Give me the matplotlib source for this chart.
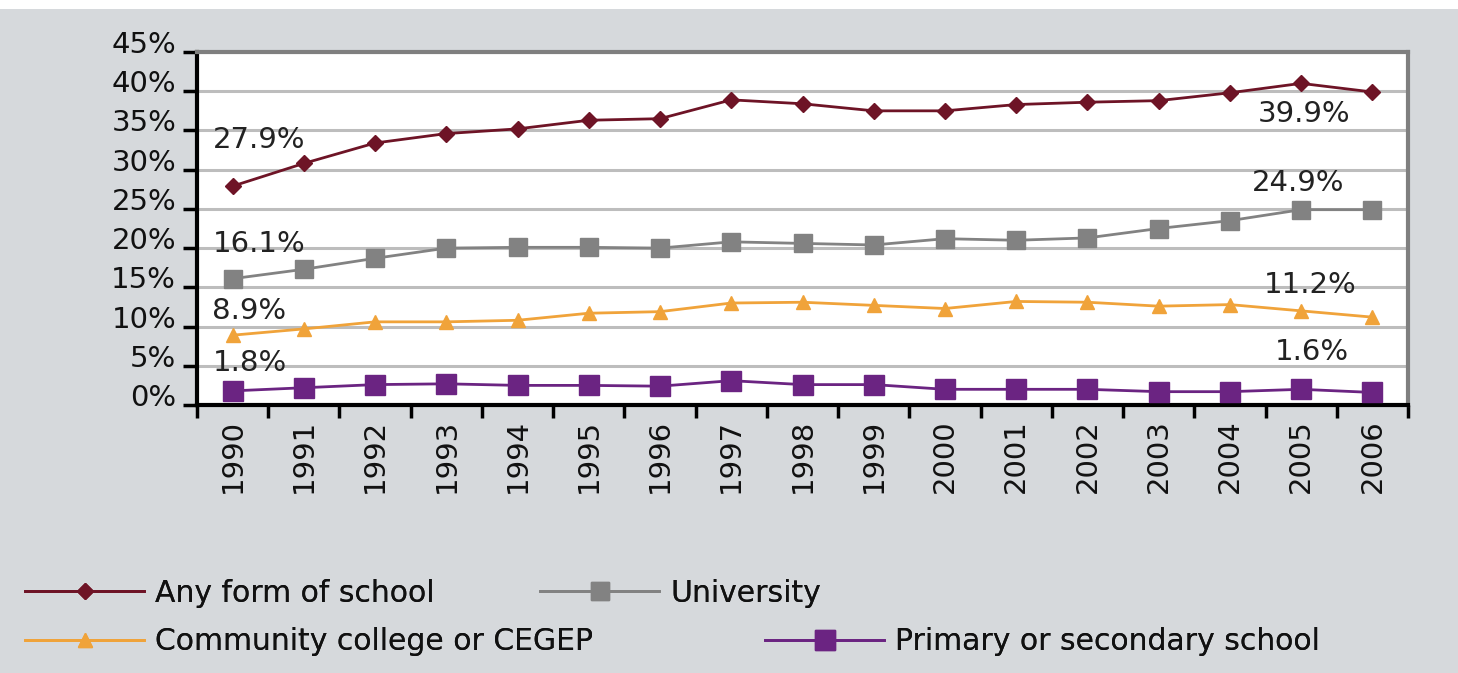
import matplotlib
matplotlib.use("Agg")
import matplotlib.pyplot as plt
import matplotlib.transforms as mtransforms
from matplotlib.patches import Rectangle

plt.rcParams['font.family'] = ['DejaVu Sans']

years = ['1990', '1991', '1992', '1993', '1994', '1995', '1996', '1997', '1998',
         '1999', '2000', '2001', '2002', '2003', '2004', '2005', '2006']
any_school = [27.9, 30.8, 33.4, 34.6, 35.2, 36.3, 36.5, 38.9, 38.4, 37.5, 37.5,
              38.3, 38.6, 38.8, 39.8, 41.0, 39.9]
university = [16.1, 17.3, 18.7, 20.0, 20.1, 20.1, 20.0, 20.8, 20.6, 20.4, 21.2,
              21.0, 21.3, 22.5, 23.5, 24.9, 24.9]
community = [8.9, 9.7, 10.6, 10.6, 10.8, 11.7, 11.9, 13.0, 13.1, 12.7, 12.3,
             13.2, 13.1, 12.6, 12.8, 12.0, 11.2]
primary = [1.8, 2.2, 2.6, 2.7, 2.5, 2.5, 2.4, 3.1, 2.6, 2.6, 2.0, 2.0, 2.0,
           1.7, 1.7, 2.0, 1.6]
series_names = ['Any form of school', 'University', 'Community college or CEGEP',
                'Primary or secondary school']
yticks = [0, 5, 10, 15, 20, 25, 30, 35, 40, 45]

W, H = 1458, 673
fig = plt.figure(figsize=(W / 100, H / 100), dpi=100)
bg = '#d6d9dc'
fig.patch.set_facecolor(bg)
fig.patches.append(Rectangle((0, (H - 9) / H), 1, 9 / H, transform=fig.transFigure,
                             facecolor='white', edgecolor='none', zorder=0))

ax = fig.add_axes([197 / W, (H - 405) / H, (1408 - 197) / W, (405 - 52) / H])
ax.set_facecolor('white')
x = list(range(len(years)))

c_any = '#6e1426'
c_uni = '#828282'
c_com = '#f0a33a'
c_pri = '#6b2482'

l1, = ax.plot(x, any_school, color=c_any, lw=2, marker='D', ms=8, mfc=c_any, mec=c_any, zorder=4)
l2, = ax.plot(x, university, color=c_uni, lw=2, marker='s', ms=12.5, mfc=c_uni, mec=c_uni, zorder=4)
l3, = ax.plot(x, community, color=c_com, lw=2, marker='^', ms=10, mfc=c_com, mec=c_com, zorder=4)
l4, = ax.plot(x, primary, color=c_pri, lw=2, marker='s', ms=14, mfc=c_pri, mec=c_pri, zorder=4,
              clip_on=False)

ax.set_xlim(-0.5, len(years) - 0.5)
ax.set_ylim(0, 45)
ax.set_yticks(yticks)
ax.set_yticklabels([f'{v}%' for v in yticks], fontsize=21, color='#111111')
ax.yaxis.grid(True, color='#bdbdbd', lw=2.2)
ax.set_axisbelow(True)
ax.tick_params(axis='y', length=10, width=2.5, direction='out', pad=5)
off = mtransforms.ScaledTranslation(0, 10 / 100, fig.dpi_scale_trans)
for lab in ax.get_yticklabels():
    lab.set_transform(lab.get_transform() + off)

ax.set_xticks(x)
ax.set_xticklabels(years, rotation=90, fontsize=21, color='#111111')
ax.set_xticks([i - 0.5 for i in range(len(years) + 1)], minor=True)
ax.tick_params(axis='x', which='major', length=0, pad=10)
ax.tick_params(axis='x', which='minor', length=9, width=2.5, direction='out')

for s in ['left', 'bottom']:
    ax.spines[s].set_color('black')
    ax.spines[s].set_linewidth(3)
for s in ['top', 'right']:
    ax.spines[s].set_color('#7f7f7f')
    ax.spines[s].set_linewidth(3)

lab_kw = dict(textcoords='offset pixels', fontsize=21, color='#222222', ha='center', va='center')
ax.annotate(f'{any_school[0]}%', (0, any_school[0]), xytext=(27, 46), **lab_kw)
ax.annotate(f'{university[0]}%', (0, university[0]), xytext=(27, 35), **lab_kw)
ax.annotate(f'{community[0]}%', (0, community[0]), xytext=(16, 24), **lab_kw)
ax.annotate(f'{primary[0]}%', (0, primary[0]), xytext=(17, 28), **lab_kw)
n = len(years) - 1
ax.annotate(f'{any_school[n]}%', (n, any_school[n]), xytext=(-68, -22), **lab_kw)
ax.annotate(f'{university[n]}%', (n, university[n]), xytext=(-74, 27), **lab_kw)
ax.annotate(f'{community[n]}%', (n, community[n]), xytext=(-62, 32), **lab_kw)
ax.annotate(f'{primary[n]}%', (n, primary[n]), xytext=(-61, 40), **lab_kw)

handles = [l1, l2, l3, l4]
positions = [(25, 593), (540, 593), (25, 642), (765, 642)]
for h, name, (px, py) in zip(handles, series_names, positions):
    leg = fig.legend([h], [name], loc='center left',
                     bbox_to_anchor=(px / W, (H - py) / H), frameon=False,
                     fontsize=21.5, handlelength=4, handletextpad=0.35,
                     borderpad=0, borderaxespad=0)
    for t in leg.get_texts():
        t.set_color('#111111')
    fig.add_artist(leg)

fig.savefig('out.png', dpi=100, facecolor=fig.get_facecolor())
